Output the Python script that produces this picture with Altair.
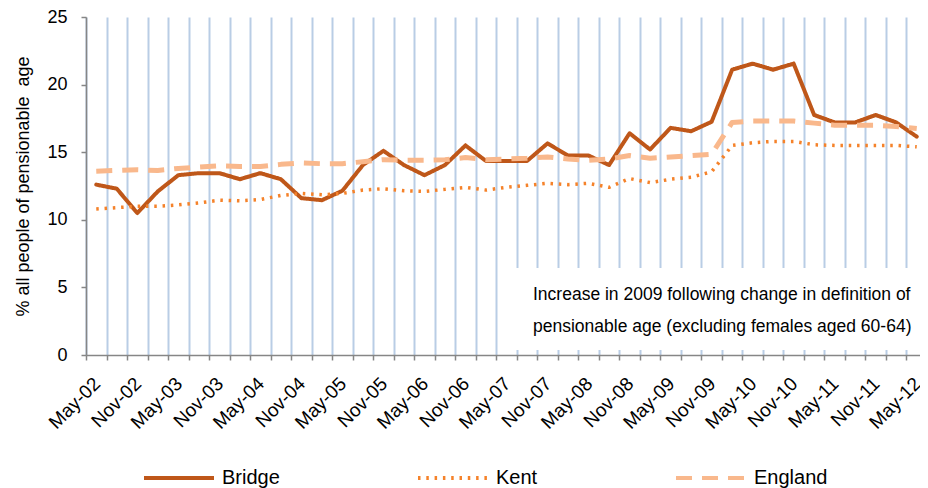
import altair as alt
import pandas as pd

quarters = ["May-02", "Aug-02", "Nov-02",
            "Feb-03", "May-03", "Aug-03", "Nov-03",
            "Feb-04", "May-04", "Aug-04", "Nov-04",
            "Feb-05", "May-05", "Aug-05", "Nov-05",
            "Feb-06", "May-06", "Aug-06", "Nov-06",
            "Feb-07", "May-07", "Aug-07", "Nov-07",
            "Feb-08", "May-08", "Aug-08", "Nov-08",
            "Feb-09", "May-09", "Aug-09", "Nov-09",
            "Feb-10", "May-10", "Aug-10", "Nov-10",
            "Feb-11", "May-11", "Aug-11", "Nov-11",
            "Feb-12", "May-12"]

bridge = [12.6, 12.3, 10.5, 12.1, 13.3, 13.45, 13.45, 13.0, 13.45, 13.0,
          11.6, 11.45, 12.15, 14.05, 15.1, 14.05, 13.3, 14.05, 15.5, 14.35,
          14.35, 14.35, 15.65, 14.75, 14.75, 14.05, 16.4, 15.2, 16.8, 16.55,
          17.25, 21.1, 21.55, 21.1, 21.55, 17.75, 17.2, 17.2, 17.75, 17.2, 16.15]

kent = [10.8, 10.9, 11.0, 11.0, 11.1, 11.25, 11.45, 11.4, 11.5, 11.8,
        11.95, 11.85, 11.95, 12.2, 12.3, 12.15, 12.1, 12.25, 12.4, 12.2,
        12.4, 12.55, 12.7, 12.6, 12.7, 12.4, 13.05, 12.75, 13.0, 13.15,
        13.55, 15.5, 15.7, 15.8, 15.8, 15.55, 15.5, 15.5, 15.5, 15.5, 15.4]

england = [13.6, 13.65, 13.7, 13.65, 13.8, 13.9, 14.0, 13.95, 13.95, 14.1,
           14.2, 14.15, 14.15, 14.3, 14.45, 14.4, 14.4, 14.45, 14.6, 14.45,
           14.5, 14.55, 14.65, 14.5, 14.4, 14.5, 14.75, 14.55, 14.65, 14.75,
           14.85, 17.2, 17.3, 17.3, 17.3, 17.15, 17.0, 17.0, 17.0, 16.9, 16.75]

series_names = ["Bridge", "Kent", "England"]
series_colors = ["#BF5719", "#F5822A", "#F9B88C"]
series_dashes = [[1, 0], [2.5, 5.8], [16, 10]]
series_widths = [4, 3.5, 5]

note_lines = ["Increase in 2009 following change in definition of",
              "pensionable age (excluding females aged 60-64)"]

rows = []
for name, vals in zip(series_names, [bridge, kent, england]):
    for q, v in zip(quarters, vals):
        rows.append({"quarter": q, "series": name, "value": v})
df = pd.DataFrame(rows)

FONT = "Liberation Sans"
W, H = 841, 338
AXIS_GRAY = "#868686"

x_enc = alt.X(
    "quarter:O", sort=quarters,
    scale=alt.Scale(type="band", paddingInner=0, paddingOuter=0),
    axis=alt.Axis(
        title=None, tickBand="extent", grid=True, gridColor="#B9CDE5", gridWidth=2,
        labelAngle=-45, labelAlign="right", labelBaseline="top",
        labelFontSize=19, labelFont=FONT, labelColor="#000000",
        labelPadding=14, labelOffset=-6, labelOverlap=False,
        labelExpr="(indexof(datum.label,'May')==0 || indexof(datum.label,'Nov')==0) ? datum.label : ''",
        domainColor=AXIS_GRAY, domainWidth=1.5, tickColor=AXIS_GRAY, tickSize=5, tickWidth=1.5,
    ),
)

y_enc = alt.Y(
    "value:Q",
    scale=alt.Scale(domain=[0, 25], nice=False, zero=True),
    axis=alt.Axis(
        title="% all people of pensionable\u00a0 age", values=[0, 5, 10, 15, 20, 25], grid=False,
        labelFontSize=18, labelFont=FONT, labelColor="#000000", labelPadding=14,
        domainColor=AXIS_GRAY, domainWidth=1.5, tickColor=AXIS_GRAY, tickSize=5, tickWidth=1.5,
        titleFontSize=18, titleFont=FONT, titleFontWeight="normal", titleColor="#000000",
        titlePadding=14,
    ),
)

legend = alt.Legend(
    title=None, orient="none", legendX=56, legendY=424, direction="horizontal", columns=3,
    symbolType="stroke", symbolSize=4900, symbolStrokeWidth=4,
    labelFontSize=20, labelFont=FONT, labelColor="#000000", labelOffset=6,
    columnPadding=130, padding=0,
)

color_enc = alt.Color("series:N", scale=alt.Scale(domain=series_names, range=series_colors), legend=legend)
dash_enc = alt.StrokeDash("series:N", scale=alt.Scale(domain=series_names, range=series_dashes), legend=legend)

base = alt.Chart(df)
lines = []
for name, w in zip(series_names, series_widths):
    cap = "round" if name == "Bridge" else "butt"
    lines.append(
        base.transform_filter(alt.datum.series == name)
        .mark_line(strokeWidth=w, strokeCap=cap, strokeJoin="round")
        .encode(x=x_enc, y=y_enc, color=color_enc, strokeDash=dash_enc)
    )

one = pd.DataFrame({"k": [0]})
box = alt.Chart(one).mark_rect(color="white").encode(
    x=alt.value(427), x2=alt.value(841), y=alt.value(251), y2=alt.value(333)
)
note1 = alt.Chart(one).mark_text(align="left", baseline="alphabetic", fontSize=17.5, font=FONT,
                                 color="#000000").encode(
    x=alt.value(447), y=alt.value(283), text=alt.value(note_lines[0]))
note2 = alt.Chart(one).mark_text(align="left", baseline="alphabetic", fontSize=17.5, font=FONT,
                                 color="#000000").encode(
    x=alt.value(447), y=alt.value(315), text=alt.value(note_lines[1]))

chart = alt.layer(box, note1, note2, *lines).properties(
    width=W, height=H,
    autosize=alt.AutoSizeParams(type="none"),
    padding={"left": 78, "top": 9, "right": -7, "bottom": 133},
    background="white",
).configure_view(stroke=None)

chart.save("out.html", embed_options={"renderer": "svg", "actions": False})
